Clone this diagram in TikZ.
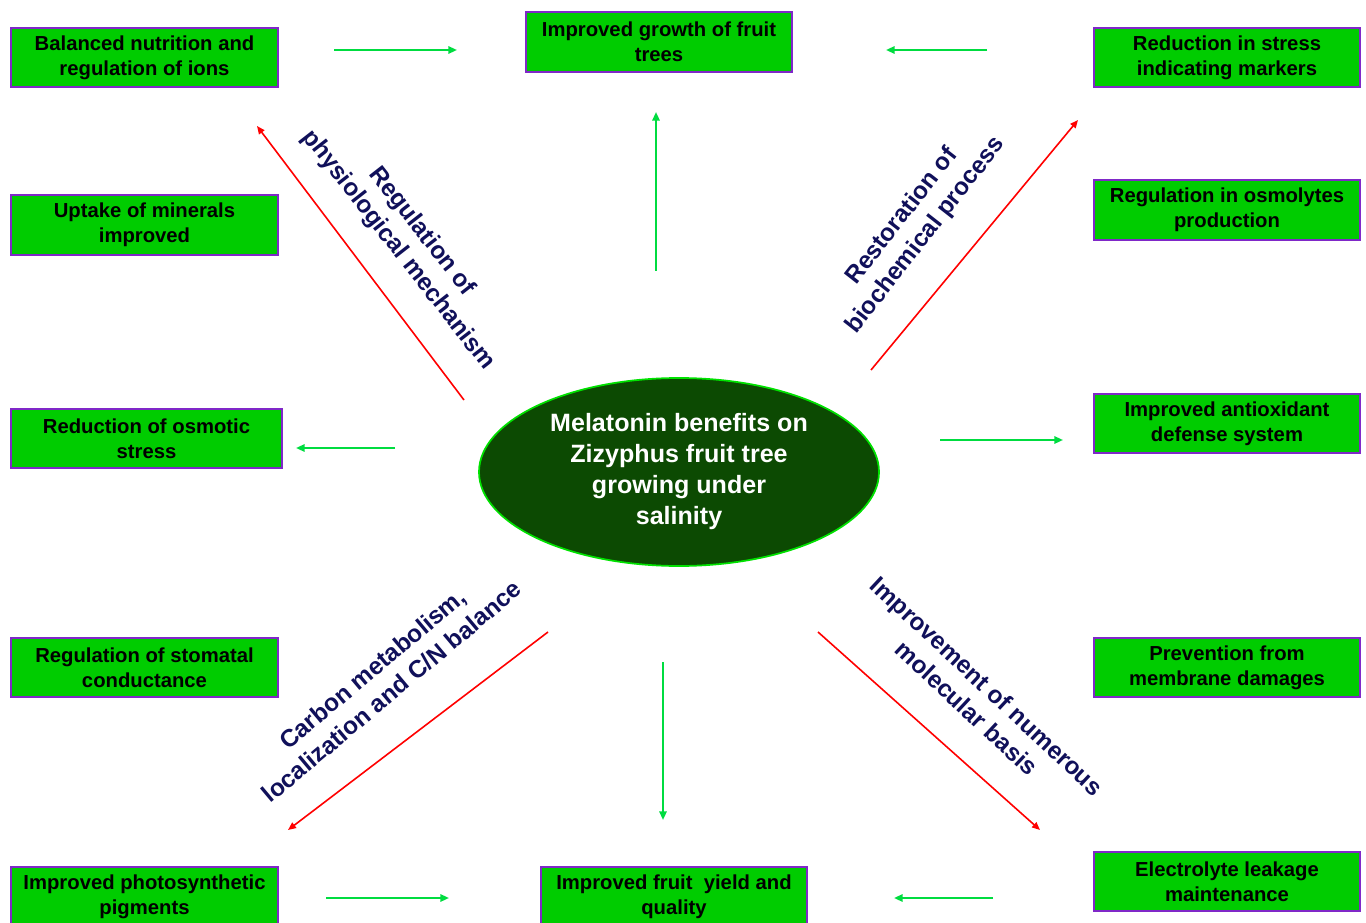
\documentclass[tikz,border=0pt]{standalone}
\usepackage{fontspec}
\setmainfont{Liberation Sans}
\usepackage{xcolor}
\usetikzlibrary{arrows.meta,shapes.geometric}
\definecolor{boxgreen}{RGB}{0,204,0}
\definecolor{boxline}{RGB}{128,40,200}
\definecolor{ellfill}{RGB}{12,74,2}
\definecolor{ellline}{RGB}{0,225,0}
\definecolor{arrgreen}{RGB}{0,220,64}
\definecolor{labnavy}{RGB}{16,16,90}
\tikzset{box/.style={draw=boxline,line width=1.3pt,fill=boxgreen,align=center,minimum width=200pt,
    minimum height=44.5pt,inner sep=2pt,font=\fontsize{15.2}{18.75}\selectfont\bfseries},
  garr/.style={draw=arrgreen,line width=1.5pt,-{Triangle[length=6.5pt,width=5.5pt]}},
  rarr/.style={draw=red,line width=1.2pt,-{Triangle[length=6pt,width=5pt]}},
  lbl/.style={text=labnavy,align=center,font=\fontsize{18.3}{22.5}\selectfont\bfseries}}

\begin{document}
\begin{tikzpicture}[x=0.75pt,y=-0.75pt]
\useasboundingbox (0,0) rectangle (1366,923);
% centre
\node[ellipse,draw=ellline,line width=1.3pt,fill=ellfill,text=white,minimum width=300pt,minimum height=141pt,
  inner sep=0pt,align=center,font=\fontsize{18.8}{23.25}\selectfont\bfseries] (mel) at (679,472)
  {Melatonin benefits on\\Zizyphus fruit tree\\growing under\\salinity};
% effects
\node[box] (bal) at (144.5,57.5) {Balanced nutrition and\\regulation of ions};
\node[box] (grw) at (659,42) {Improved growth of fruit\\trees};
\node[box] (mrk) at (1227,57.5) {Reduction in stress\\indicating markers};
\node[box] (upt) at (144.5,225) {Uptake of minerals\\improved};
\node[box] (osm) at (1227,210) {Regulation in osmolytes\\production};
\node[box,minimum width=203pt] (ost) at (146.5,438.5) {Reduction of osmotic\\stress};
\node[box] (aox) at (1227,423.5) {Improved antioxidant\\defense system};
\node[box] (sto) at (144.5,667.5) {Regulation of stomatal\\conductance};
\node[box] (mem) at (1227,667.5) {Prevention from\\membrane damages};
\node[box] (pig) at (144.5,897) {Improved photosynthetic\\pigments};
\node[box] (yld) at (674,897) {Improved fruit~ yield and\\quality};
\node[box] (ele) at (1227,881.5) {Electrolyte leakage\\maintenance};
% pathway labels
\node[lbl,rotate=-52] (phy) at (410,241) {Regulation of\\physiological mechanism};
\node[lbl,rotate=52] (bio) at (914,226) {Restoration of\\biochemical process};
\node[lbl,rotate=40] (cbn) at (382,680) {Carbon metabolism,\\localization and C/N balance};
\node[lbl,rotate=-43] (mol) at (977,697) {Improvement of numerous\\molecular basis};
% arrow ends
\coordinate (g1a) at (334,50);  \coordinate (g1b) at (457,50);
\coordinate (g2a) at (987,50);  \coordinate (g2b) at (886,50);
\coordinate (g3a) at (656,271); \coordinate (g3b) at (656,112);
\coordinate (g4a) at (395,448); \coordinate (g4b) at (296,448);
\coordinate (g5a) at (940,440); \coordinate (g5b) at (1063,440);
\coordinate (g6a) at (663,662); \coordinate (g6b) at (663,820);
\coordinate (g7a) at (326,898); \coordinate (g7b) at (449,898);
\coordinate (g8a) at (993,898); \coordinate (g8b) at (894,898);
\coordinate (r1a) at (464,400); \coordinate (r1b) at (257,126);
\coordinate (r2a) at (871,370); \coordinate (r2b) at (1078,120);
\coordinate (r3a) at (548,632); \coordinate (r3b) at (288,830);
\coordinate (r4a) at (818,632); \coordinate (r4b) at (1040,830);
\foreach \i in {1,...,8}{\draw[garr] (g\i a) -- (g\i b);}
\foreach \i in {1,...,4}{\draw[rarr] (r\i a) -- (r\i b);}
\end{tikzpicture}
\end{document}
